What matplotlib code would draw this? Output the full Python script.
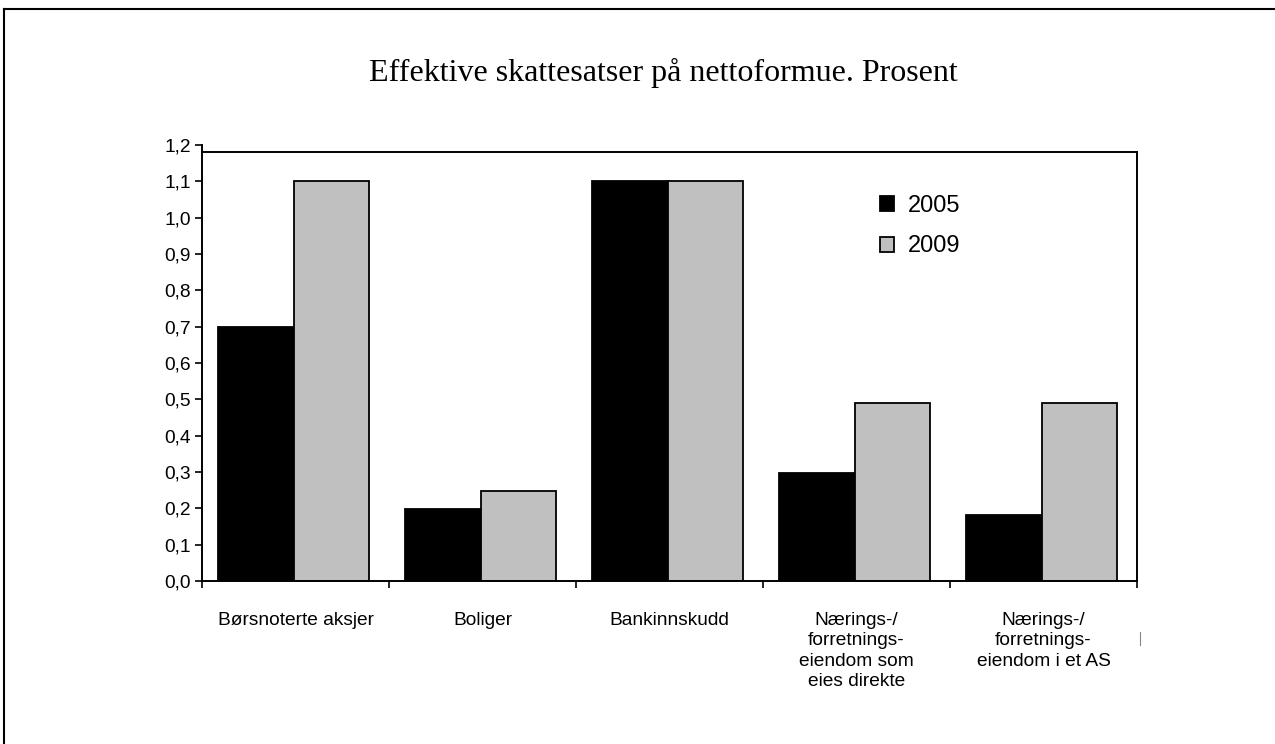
import matplotlib
matplotlib.use("Agg")
import matplotlib.pyplot as plt
import numpy as np
from matplotlib.lines import Line2D

categories = [
    "Børsnoterte aksjer",
    "Boliger",
    "Bankinnskudd",
    "Nærings-/\nforretnings-\neiendom som\neies direkte",
    "Nærings-/\nforretnings-\neiendom i et AS",
]
years = ["2005", "2009"]
rates_2005 = [0.70, 0.197, 1.10, 0.298, 0.182]
rates_2009 = [1.10, 0.248, 1.10, 0.491, 0.491]
yticks = [0.0, 0.1, 0.2, 0.3, 0.4, 0.5, 0.6, 0.7, 0.8, 0.9, 1.0, 1.1, 1.2]
ytick_labels = [f"{v:.1f}".replace(".", ",") for v in yticks]
frame_top = 1.181

W, H = 1275, 744
fig = plt.figure(figsize=(W / 100, H / 100), dpi=100)
ax = fig.add_axes([202 / W, 1 - 581 / H, (1137 - 202) / W, (581 - 145) / H])

x = np.arange(len(categories))
bw = 0.405
left0 = -0.5 + 16 / 187
ax.bar(x + left0, rates_2005, width=bw, align="edge", color="black",
       edgecolor="black", linewidth=1.3, label=years[0], zorder=2)
ax.bar(x + left0 + bw, rates_2009, width=bw, align="edge", color="#c0c0c0",
       edgecolor="black", linewidth=1.3, label=years[1], zorder=2)

xmin, xmax = -0.5, len(categories) - 0.5
ax.set_xlim(xmin, xmax)
ax.set_ylim(0, 1.2)
ax.set_yticks(yticks)
ax.set_yticklabels(ytick_labels, fontfamily="Liberation Sans", fontsize=13.8)
ax.set_xticks(np.arange(len(categories) + 1) - 0.5)
ax.set_xticklabels([])
ax.tick_params(axis="both", direction="out", length=5, width=1.2, color="black")
ax.tick_params(axis="y", pad=3)
ax.spines["top"].set_visible(False)
ax.spines["right"].set_visible(False)
for sp in ("left", "bottom"):
    ax.spines[sp].set_linewidth(1.4)

# plot-area frame sits slightly below the top tick
ax.plot([xmin, xmax], [frame_top, frame_top], color="black", linewidth=1.4,
        clip_on=False, zorder=3, solid_capstyle="projecting")
ax.plot([xmax, xmax], [0, frame_top], color="black", linewidth=1.4,
        clip_on=False, zorder=3, solid_capstyle="projecting")

for i, lab in enumerate(categories):
    ax.text(i, -0.084, lab, ha="center", va="top", fontsize=13.8,
            fontfamily="Liberation Sans", linespacing=1.28,
            transform=ax.transData, clip_on=False)

leg = ax.legend(loc="upper left", bbox_to_anchor=(0.702, 0.935), frameon=False,
                prop={"family": "Liberation Sans", "size": 17},
                handlelength=0.6, handleheight=0.6, handletextpad=0.6,
                labelspacing=0.8)

fig.text(663 / W, 1 - 73 / H, "Effektive skattesatser på nettoformue. Prosent",
         ha="center", va="center", fontfamily="Liberation Serif", fontsize=23)

# outer frame on top and left edges, plus a small stray mark
fig.add_artist(Line2D([4 / W, 1], [1 - 9 / H, 1 - 9 / H], color="black",
                      linewidth=1.5, transform=fig.transFigure))
fig.add_artist(Line2D([4 / W, 4 / W], [0, 1 - 9 / H], color="black",
                      linewidth=1.5, transform=fig.transFigure))
fig.add_artist(Line2D([1140 / W, 1140 / W], [1 - 632 / H, 1 - 645 / H],
                      color="#888888", linewidth=0.8, transform=fig.transFigure))

fig.savefig("out.png", dpi=100)
